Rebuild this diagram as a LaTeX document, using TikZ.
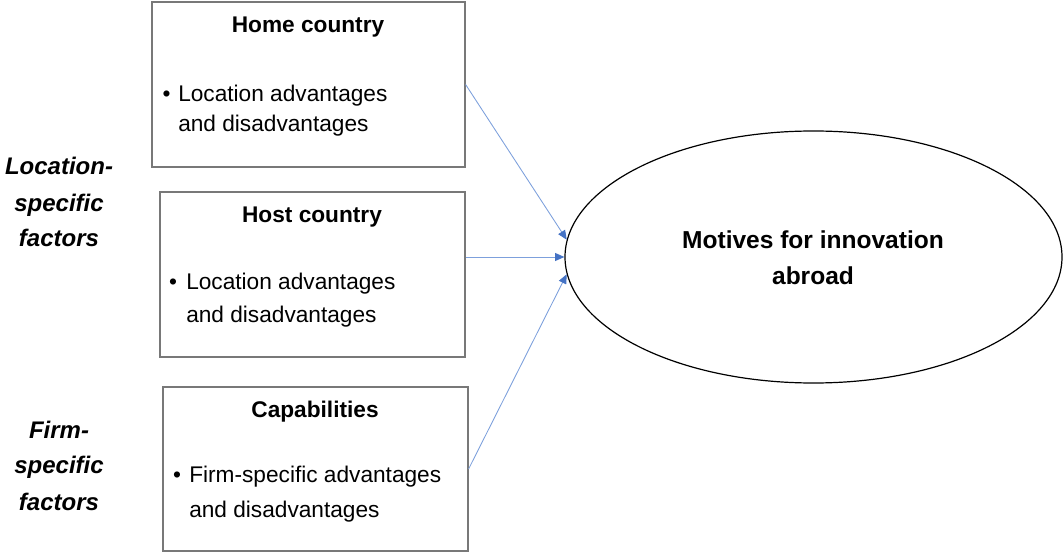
\documentclass[tikz,border=0pt]{standalone}
\usepackage{fontspec}
\setmainfont{Liberation Sans}
\usetikzlibrary{shapes.geometric,arrows.meta}
\definecolor{boxgray}{RGB}{120,120,120}
\definecolor{arrline}{RGB}{125,160,220}
\definecolor{arrtip}{RGB}{68,114,196}
\begin{document}
\begin{tikzpicture}[x=0.75pt,y=-0.75pt,
  factorbox/.style={draw=boxgray,line width=0.9pt,inner sep=0pt},
  boxtitle/.style={anchor=base,inner sep=0pt,font=\fontsize{17}{20}\selectfont\bfseries},
  item/.style={anchor=base west,inner sep=0pt,font=\fontsize{17}{20}\selectfont},
  bulletmark/.style={anchor=base,inner sep=0pt,font=\fontsize{17}{20}\selectfont},
  side/.style={anchor=base,inner sep=0pt,font=\fontsize{18}{22}\selectfont\bfseries\itshape},
  goal/.style={anchor=base,inner sep=0pt,font=\fontsize{18.4}{22}\selectfont\bfseries},
  link/.style={draw=arrline,line width=0.65pt,-{Triangle[length=7pt,width=6pt,color=arrtip]}}]
\useasboundingbox (0,0) rectangle (1063,552);

% side labels
\node[side] (loc1) at (59,175) {Location-};
\node[side] (loc2) at (59,212) {specific};
\node[side] (loc3) at (59,247) {factors};
\node[side] (firm1) at (59,438) {Firm-};
\node[side] (firm2) at (59,473) {specific};
\node[side] (firm3) at (59,510) {factors};

% factor boxes
\node[factorbox,minimum width=234.75pt,minimum height=123.75pt] (home) at (308.5,84.5) {};
\node[factorbox,minimum width=228.75pt,minimum height=123.75pt] (host) at (312.5,274.5) {};
\node[factorbox,minimum width=228.75pt,minimum height=123pt] (cap) at (315.5,469) {};

% home country
\node[boxtitle] (homet) at (308,33) {Home country};
\node[bulletmark] (homeb) at (166.5,102) {\textbullet};
\node[item] (homel1) at (178,102) {Location advantages};
\node[item] (homel2) at (178,132) {and disadvantages};

% host country
\node[boxtitle] (hostt) at (312,223) {Host country};
\node[bulletmark] (hostb) at (173,290) {\textbullet};
\node[item] (hostl1) at (186,290) {Location advantages};
\node[item] (hostl2) at (186,322) {and disadvantages};

% capabilities
\node[boxtitle] (capt) at (315,417) {Capabilities};
\node[bulletmark] (capb) at (177,482) {\textbullet};
\node[item] (capl1) at (189,482) {Firm-specific advantages};
\node[item] (capl2) at (189,517) {and disadvantages};

% outcome
\node[draw,ellipse,line width=0.9pt,minimum width=372.75pt,minimum height=189pt,inner sep=0pt] (motive) at (813.5,257) {};
\node[goal] (motive1) at (813,248) {Motives for innovation};
\node[goal] (motive2) at (813,285) {abroad};

% influences
\draw[link] (home.east) -- (motive.176);
\draw[link] (host.east |- motive.west) -- (motive.west);
\draw[link] (cap.east) -- (motive.184);
\end{tikzpicture}
\end{document}
